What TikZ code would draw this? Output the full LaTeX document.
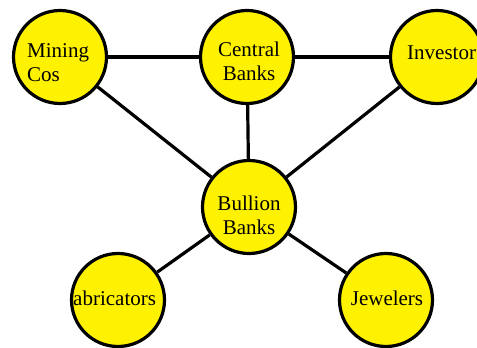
\documentclass[tikz,border=0pt]{standalone}
\usepackage{fontspec}
\setmainfont{Liberation Serif}
\begin{document}
\begin{tikzpicture}[x=1pt,y=-1pt,
  actor/.style={circle,draw=black,line width=3.2pt,fill=yellow,minimum size=93pt,inner sep=0pt},
  lbl/.style={font=\fontsize{21}{24}\selectfont,inner sep=0pt,align=center},
  link/.style={line width=3.2pt,draw=black}]
\useasboundingbox (0,0) rectangle (477,348);
\node[actor] (mining) at (60,57) {};
\node[actor] (central) at (247,57) {};
\node[actor] (investor) at (437,57) {};
\node[actor] (bullion) at (249,207) {};
\node[actor] (fab) at (118,300) {};
\node[actor] (jew) at (386,300) {};
\draw[link] (mining) -- (central);
\draw[link] (central) -- (investor);
\draw[link] (mining) -- (bullion);
\draw[link] (central) -- (bullion);
\draw[link] (investor) -- (bullion);
\draw[link] (bullion) -- (fab);
\draw[link] (bullion) -- (jew);
\node[lbl,align=left,anchor=west] (tmining) at (27,63) {Mining\\Cos};
\node[lbl] (tcentral) at (249,61) {Central\\Banks};
\node[lbl,anchor=west] (tinvestor) at (407,53) {Investor};
\node[lbl] (tbullion) at (249,215) {Bullion\\Banks};
\node[lbl,anchor=west] (tfab) at (73,298) {abricators};
\node[lbl] (tjew) at (387,298) {Jewelers};
\end{tikzpicture}
\end{document}
